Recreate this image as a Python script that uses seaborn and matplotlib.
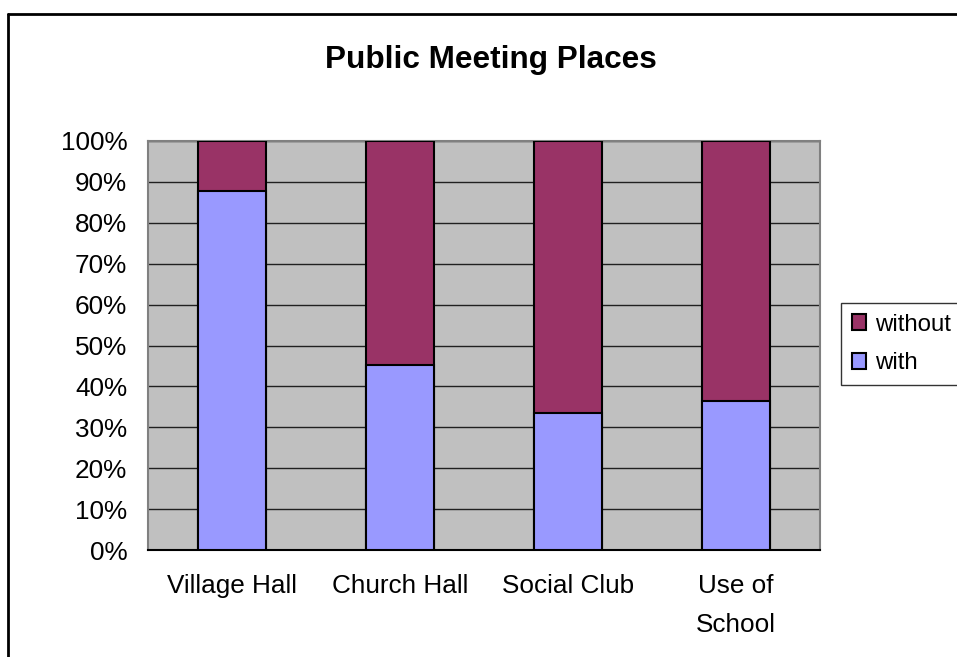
import matplotlib
matplotlib.use("Agg")
import matplotlib.pyplot as plt
from matplotlib.patches import Patch
from matplotlib.lines import Line2D
import seaborn as sns

# Data (percent)
places = ["Village Hall", "Church Hall", "Social Club", "Use of\nSchool"]
with_pct = [87.7, 45.3, 33.6, 36.5]
without_pct = [12.3, 54.7, 66.4, 63.5]
y_ticks = [0, 10, 20, 30, 40, 50, 60, 70, 80, 90, 100]

blue = "#9999FF"
maroon = "#993366"
gray = "#C0C0C0"

sns.set_style("white")
plt.rcParams["font.family"] = ["Liberation Sans", "DejaVu Sans"]
plt.rcParams["text.color"] = "black"
plt.rcParams["xtick.color"] = "black"
plt.rcParams["ytick.color"] = "black"

W, H = 957, 657
fig = plt.figure(figsize=(W / 100, H / 100), dpi=100)
ax = fig.add_axes([148 / W, 1 - 550 / H, 672 / W, 409 / H])
ax.set_facecolor(gray)

totals = [a + b for a, b in zip(with_pct, without_pct)]
sns.barplot(x=places, y=totals, color=maroon, saturation=1, width=0.405,
            edgecolor="black", linewidth=1.5, ax=ax, zorder=3)
sns.barplot(x=places, y=with_pct, color=blue, saturation=1, width=0.405,
            edgecolor="black", linewidth=1.5, ax=ax, zorder=3)

ax.set_xlim(-0.5, len(places) - 0.5)
ax.set_ylim(0, 100)
ax.set_yticks(y_ticks)
ax.set_yticklabels([f"{v}%" for v in y_ticks])
ax.yaxis.grid(True, color="#202020", linewidth=1)
ax.set_axisbelow(True)

# category labels on minor ticks, tick marks between categories
ax.set_xticks([i - 0.5 for i in range(len(places) + 1)])
ax.set_xticklabels([])
ax.set_xticks(range(len(places)), minor=True)
ax.set_xticklabels(places, minor=True, fontsize=18.8, linespacing=1.8)
ax.tick_params(axis="x", which="major", direction="out", length=6, width=1, color="#808080")
ax.tick_params(axis="x", which="minor", length=0, pad=17)
ax.tick_params(axis="y", direction="out", length=6, width=1, color="#404040",
               labelsize=18.8, pad=9)
ax.set_xlabel("")
ax.set_ylabel("")

for side in ["left", "right", "top"]:
    ax.spines[side].set_color("#808080")
    ax.spines[side].set_linewidth(1.5)
ax.spines["bottom"].set_color("black")
ax.spines["bottom"].set_linewidth(1.5)

fig.text(491 / W, 1 - 60 / H, "Public Meeting Places", ha="center", va="center",
         fontsize=22.7, fontweight="bold")

handles = [Patch(facecolor=maroon, edgecolor="black", linewidth=1.5, label="without"),
           Patch(facecolor=blue, edgecolor="black", linewidth=1.5, label="with")]
leg = fig.legend(handles=handles, loc="center left", bbox_to_anchor=(841 / W, 1 - 344 / H),
                 fontsize=17.3, frameon=True, fancybox=False, borderpad=0.45,
                 handlelength=0.6, handleheight=0.6, handletextpad=0.35,
                 labelspacing=0.7, borderaxespad=0)
leg.get_frame().set_edgecolor("black")
leg.get_frame().set_linewidth(1)

# chart border (only top and left edges fall inside the image)
fig.add_artist(Line2D([8 / W, 8 / W], [0, 1 - 14 / H], transform=fig.transFigure,
                      color="black", linewidth=2))
fig.add_artist(Line2D([8 / W, 1], [1 - 14 / H, 1 - 14 / H], transform=fig.transFigure,
                      color="black", linewidth=2))

fig.savefig("out.png", dpi=100)
plt.close(fig)
